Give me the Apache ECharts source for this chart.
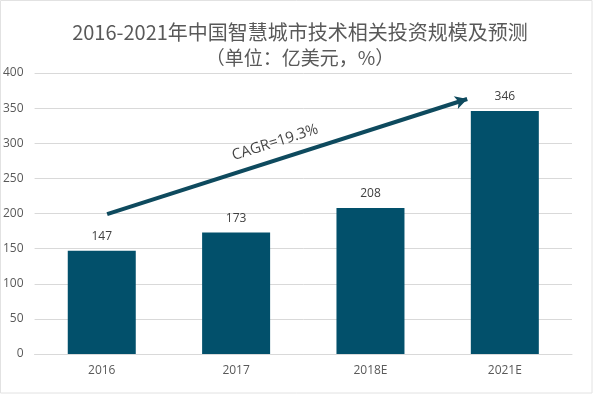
<!DOCTYPE html>
<html>
<head>
<meta charset="utf-8">
<script src="https://cdn.jsdelivr.net/npm/echarts@6/dist/echarts.min.js"></script>
<style>html,body{margin:0;padding:0;background:#fff}#c{width:600px;height:394px}</style>
</head>
<body>
<div id="c"></div>
<script>
var titleLine1 = '2016-2021年中国智慧城市技术相关投资规模及预测';
var titleLine2 = '（单位：亿美元，%）';
var categories = ['2016', '2017', '2018E', '2021E'];
var values = [147, 173, 208, 346];
var yTicks = [0, 50, 100, 150, 200, 250, 300, 350, 400];
// arrow annotation in data space (x: category units 0..4, y: value)
var arrowStart = [0.54, 199];
var arrowEnd = [3.22, 363];
var cagrText = 'CAGR=19.3%';
var cagrPos = [1.79, 301];

var chart = echarts.init(document.getElementById('c'));
var barColor = '#02506b';
chart.setOption({
  animation: false,
  backgroundColor: '#fff',
  graphic: [{
    type: 'rect', silent: true, z: -1,
    shape: {x: 0.5, y: 0.5, width: 591.5, height: 392.5},
    style: {fill: 'none', stroke: '#e2e2e2', lineWidth: 1}
  }],
  title: [{
    text: titleLine1, left: 'center', top: 17,
    textStyle: {fontFamily: 'Noto Sans CJK SC', fontSize: 20, fontWeight: 'normal', color: '#595959'}
  }, {
    text: titleLine2, left: 'center', top: 43,
    textStyle: {fontFamily: 'Noto Sans CJK SC', fontSize: 19, fontWeight: 'normal', color: '#595959'}
  }],
  grid: {left: 34, right: 28, top: 73, bottom: 40, containLabel: false},
  xAxis: [{
    type: 'category', data: categories,
    axisLine: {lineStyle: {color: '#d9d9d9'}},
    axisTick: {show: false},
    axisLabel: {color: '#595959', fontSize: 12, margin: 11, fontFamily: 'Open Sans'}
  }, {
    type: 'value', min: 0, max: 4, show: false
  }],
  yAxis: [{
    type: 'value', min: yTicks[0], max: yTicks[yTicks.length - 1], interval: yTicks[1] - yTicks[0],
    axisLine: {show: false}, axisTick: {show: false},
    splitLine: {lineStyle: {color: '#d9d9d9'}},
    axisLabel: {color: '#595959', fontSize: 12, margin: 11, fontFamily: 'Open Sans'}
  }],
  series: [{
    type: 'bar', data: values, barWidth: 68,
    itemStyle: {color: barColor},
    label: {show: true, position: 'top', distance: 8, color: '#404040', fontSize: 12, fontFamily: 'Open Sans'}
  }, {
    type: 'scatter', xAxisIndex: 1, yAxisIndex: 0,
    data: [cagrPos], symbolSize: 0, silent: true,
    label: {
      show: true, position: 'inside', formatter: cagrText, rotate: 17.7,
      color: '#111111', fontSize: 15, fontFamily: 'Open Sans'
    },
    markLine: {
      silent: true, symbol: ['none', 'arrow'], symbolSize: [10, 12],
      label: {show: false},
      lineStyle: {color: '#0e4a5e', width: 4, type: 'solid'},
      data: [[{coord: arrowStart}, {coord: arrowEnd}]]
    }
  }]
});
</script>
</body>
</html>
